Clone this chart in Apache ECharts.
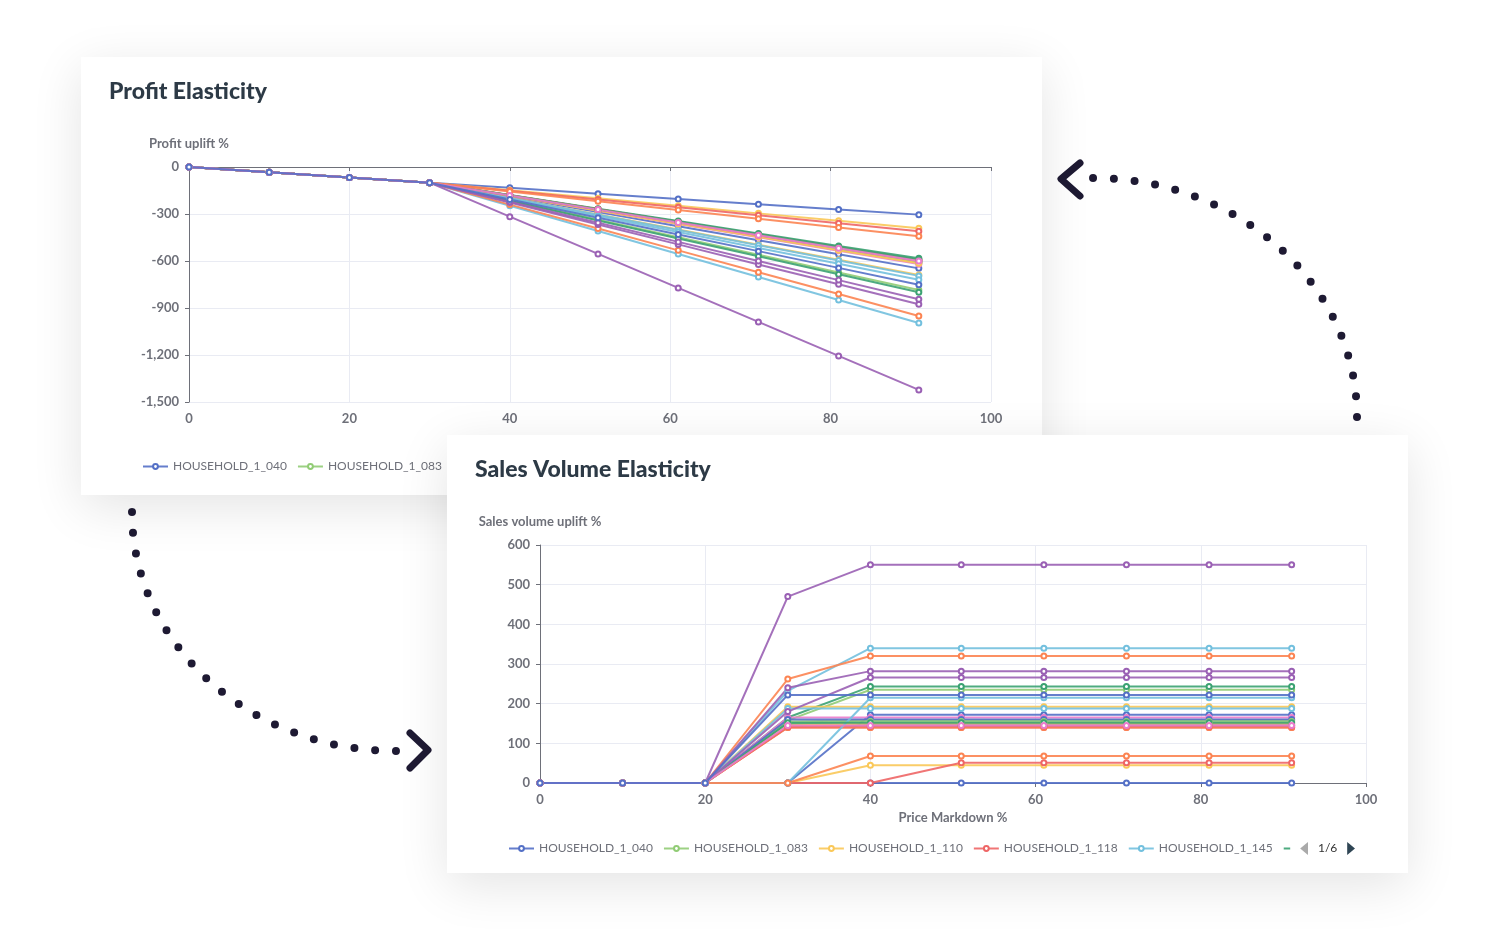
<!DOCTYPE html>
<html>
<head>
<meta charset="utf-8">
<script src="https://cdn.jsdelivr.net/npm/echarts@6/dist/echarts.min.js"></script>
<style>
html, body { margin: 0; width: 1488px; height: 930px; background: #fff; overflow: hidden; }
.card { position: absolute; width: 961px; height: 438px; background: #fff; box-shadow: 0 12px 48px rgba(0, 0, 0, 0.11); }
#card1 { left: 81px; top: 57px; z-index: 1; }
#card2 { left: 447px; top: 435px; z-index: 2; }
#arrows { position: absolute; left: 0; top: 0; z-index: 0; }
</style>
</head>
<body>
<svg id="arrows" width="1488" height="930">
  <g fill="none" stroke="#1e1a33" stroke-linecap="round" stroke-linejoin="round">
    <path d="M1357,417 C1357,285 1239,178 1093,178" stroke-width="8" stroke-dasharray="0 20.8"/>
    <polyline points="1080,163 1061,179 1080,196" stroke-width="7"/>
    <path d="M132,512 C132,644 250,751 396,751" stroke-width="8" stroke-dasharray="0 20.8"/>
    <polyline points="410,733 428,750 410,768" stroke-width="7"/>
  </g>
</svg>
<div class="card" id="card1"><div id="profit" style="width:961px;height:438px"></div></div>
<div class="card" id="card2"><div id="sales" style="width:961px;height:438px"></div></div>
<script>
// markdown steps (%)
var markdown = [0, 10, 20, 30, 40, 51, 61, 71, 81, 91];

var households = [
  'HOUSEHOLD_1_040', 'HOUSEHOLD_1_083', 'HOUSEHOLD_1_110', 'HOUSEHOLD_1_118', 'HOUSEHOLD_1_145',
  'HOUSEHOLD_1_159', 'HOUSEHOLD_1_172', 'HOUSEHOLD_1_183', 'HOUSEHOLD_1_204', 'HOUSEHOLD_1_226',
  'HOUSEHOLD_1_238', 'HOUSEHOLD_1_251', 'HOUSEHOLD_1_272', 'HOUSEHOLD_1_288', 'HOUSEHOLD_1_303',
  'HOUSEHOLD_1_316', 'HOUSEHOLD_1_334', 'HOUSEHOLD_1_347', 'HOUSEHOLD_1_362', 'HOUSEHOLD_1_381',
  'HOUSEHOLD_1_405', 'HOUSEHOLD_1_413', 'HOUSEHOLD_1_430', 'HOUSEHOLD_1_447', 'HOUSEHOLD_1_466',
  'HOUSEHOLD_1_480', 'HOUSEHOLD_1_502', 'HOUSEHOLD_1_519'
];

// profit uplift % per household
var profit = [
  [0, -33, -67, -100, -133, -170, -204, -237, -271, -304],
  [0, -33, -67, -100, -212, -336, -448, -560, -673, -785],
  [0, -33, -67, -100, -148, -200, -248, -296, -343, -391],
  [0, -33, -67, -100, -151, -207, -257, -308, -359, -410],
  [0, -33, -67, -100, -247, -408, -555, -702, -849, -996],
  [0, -33, -67, -100, -215, -341, -456, -570, -685, -800],
  [0, -33, -67, -100, -240, -393, -532, -672, -811, -951],
  [0, -33, -67, -100, -317, -555, -772, -989, -1206, -1423],
  [0, -33, -67, -100, -183, -273, -356, -439, -521, -604],
  [0, -33, -67, -100, -190, -288, -378, -468, -557, -647],
  [0, -33, -67, -100, -184, -276, -360, -444, -528, -612],
  [0, -33, -67, -100, -197, -303, -399, -496, -592, -689],
  [0, -33, -67, -100, -181, -269, -350, -431, -511, -592],
  [0, -33, -67, -100, -198, -305, -402, -500, -597, -695],
  [0, -33, -67, -100, -179, -266, -345, -425, -504, -583],
  [0, -33, -67, -100, -181, -270, -352, -433, -514, -595],
  [0, -33, -67, -100, -227, -367, -494, -622, -749, -876],
  [0, -33, -67, -100, -185, -279, -364, -449, -535, -620],
  [0, -33, -67, -100, -183, -274, -357, -439, -522, -605],
  [0, -33, -67, -100, -183, -275, -358, -441, -525, -608],
  [0, -33, -67, -100, -184, -277, -362, -446, -531, -615],
  [0, -33, -67, -100, -182, -271, -353, -435, -516, -598],
  [0, -33, -67, -100, -202, -313, -415, -517, -618, -720],
  [0, -33, -67, -100, -180, -269, -349, -429, -510, -590],
  [0, -33, -67, -100, -156, -218, -274, -330, -386, -442],
  [0, -33, -67, -100, -222, -356, -478, -600, -722, -844],
  [0, -33, -67, -100, -182, -272, -354, -436, -518, -600],
  [0, -33, -67, -100, -207, -324, -431, -537, -644, -751]
];

// sales volume uplift % per household
var sales = [
  [0, 0, 0, 0, 0, 0, 0, 0, 0, 0],
  [0, 0, 0, 158, 235, 235, 235, 235, 235, 235],
  [0, 0, 0, 0, 45, 45, 45, 45, 45, 45],
  [0, 0, 0, 0, 0, 51, 51, 51, 51, 51],
  [0, 0, 0, 232, 340, 340, 340, 340, 340, 340],
  [0, 0, 0, 165, 243, 243, 243, 243, 243, 243],
  [0, 0, 0, 262, 320, 320, 320, 320, 320, 320],
  [0, 0, 0, 470, 550, 550, 550, 550, 550, 550],
  [0, 0, 0, 148, 148, 148, 148, 148, 148, 148],
  [0, 0, 0, 0, 172, 172, 172, 172, 172, 172],
  [0, 0, 0, 155, 158, 158, 158, 158, 158, 158],
  [0, 0, 0, 192, 192, 192, 192, 192, 192, 192],
  [0, 0, 0, 140, 140, 140, 140, 140, 140, 140],
  [0, 0, 0, 188, 188, 188, 188, 188, 188, 188],
  [0, 0, 0, 150, 145, 145, 145, 145, 145, 145],
  [0, 0, 0, 140, 140, 140, 140, 140, 140, 140],
  [0, 0, 0, 240, 282, 282, 282, 282, 282, 282],
  [0, 0, 0, 165, 165, 165, 165, 165, 165, 165],
  [0, 0, 0, 160, 160, 160, 160, 160, 160, 160],
  [0, 0, 0, 150, 155, 155, 155, 155, 155, 155],
  [0, 0, 0, 145, 150, 150, 150, 150, 150, 150],
  [0, 0, 0, 142, 143, 143, 143, 143, 143, 143],
  [0, 0, 0, 0, 215, 215, 215, 215, 215, 215],
  [0, 0, 0, 152, 152, 152, 152, 152, 152, 152],
  [0, 0, 0, 0, 68, 68, 68, 68, 68, 68],
  [0, 0, 0, 180, 266, 266, 266, 266, 266, 266],
  [0, 0, 0, 145, 145, 145, 145, 145, 145, 145],
  [0, 0, 0, 222, 222, 222, 222, 222, 222, 222]
];

var xTicks = { min: 0, max: 100, interval: 20 };
var profitTicks = { min: -1500, max: 0, interval: 300 };
var salesTicks = { min: 0, max: 600, interval: 100 };

var FONT = 'Lato';
var palette = ['#5470c6', '#91cc75', '#fac858', '#ee6666', '#73c0de', '#3ba272', '#fc8452', '#9a60b4', '#ea7ccc'];
var labelStyle = { color: '#6e7079', fontSize: 13, fontWeight: 'bold', fontFamily: FONT, margin: 10 };
var nameStyle = { color: '#6e7079', fontSize: 13, fontWeight: 'bold', fontFamily: FONT };
var splitStyle = { show: true, lineStyle: { color: '#e9ebf3', width: 1 } };
var axisLineStyle = { color: '#6e7079', width: 1 };

function makeSeries(values) {
  return households.map(function (name, i) {
    return {
      name: name,
      type: 'line',
      symbol: 'emptyCircle',
      symbolSize: 5,
      lineStyle: { width: 2, opacity: 0.9 },
      emphasis: { disabled: true },
      data: markdown.map(function (x, j) { return [x, values[i][j]]; })
    };
  });
}

function makeLegend(bottom) {
  return {
    type: 'scroll',
    left: 56,
    width: 847,
    bottom: bottom,
    itemGap: 10,
    itemWidth: 25,
    itemHeight: 6,
    textStyle: { color: '#6e7079', fontSize: 12, fontFamily: FONT },
    pageTextStyle: { color: '#333', fontSize: 12, fontFamily: FONT },
    pageIconColor: '#2f4554',
    pageIconInactiveColor: '#aaa',
    pageIconSize: 13,
    data: households
  };
}

function makeTitle(text) {
  return {
    text: text, left: 23, top: 18,
    textStyle: { fontSize: 23, fontWeight: 900, color: '#2d3a46', fontFamily: FONT }
  };
}

var profitChart = echarts.init(document.getElementById('profit'));
profitChart.setOption({
  animation: false,
  color: palette,
  title: makeTitle('Profit Elasticity'),
  legend: makeLegend(17),
  grid: { left: 108, right: 51, top: 110, bottom: 93 },
  xAxis: [{
    type: 'value', min: xTicks.min, max: xTicks.max, interval: xTicks.interval, position: 'bottom',
    axisLine: { show: false, onZero: false }, axisTick: { show: false },
    axisLabel: labelStyle, splitLine: splitStyle
  }, {
    type: 'value', min: xTicks.min, max: xTicks.max, interval: xTicks.interval, position: 'top',
    axisLine: { show: true, onZero: false, lineStyle: axisLineStyle },
    axisTick: { show: true, inside: true, length: 4, lineStyle: axisLineStyle },
    axisLabel: { show: false }, splitLine: { show: false }
  }],
  yAxis: {
    type: 'value', min: profitTicks.min, max: profitTicks.max, interval: profitTicks.interval,
    name: 'Profit uplift %', nameGap: 17,
    nameTextStyle: nameStyle,
    axisLine: { show: true, lineStyle: axisLineStyle },
    axisTick: { show: true, length: 4, lineStyle: axisLineStyle },
    axisLabel: labelStyle, splitLine: splitStyle
  },
  series: makeSeries(profit)
});

var salesChart = echarts.init(document.getElementById('sales'));
salesChart.setOption({
  animation: false,
  color: palette,
  title: makeTitle('Sales Volume Elasticity'),
  legend: makeLegend(13),
  grid: { left: 93, right: 42, top: 110, bottom: 90 },
  xAxis: {
    type: 'value', min: xTicks.min, max: xTicks.max, interval: xTicks.interval,
    name: 'Price Markdown %', nameLocation: 'middle', nameGap: 27,
    nameTextStyle: nameStyle,
    axisLine: { show: true, lineStyle: axisLineStyle },
    axisTick: { show: true, length: 4, lineStyle: axisLineStyle },
    axisLabel: labelStyle, splitLine: splitStyle
  },
  yAxis: {
    type: 'value', min: salesTicks.min, max: salesTicks.max, interval: salesTicks.interval,
    name: 'Sales volume uplift %', nameGap: 17,
    nameTextStyle: nameStyle,
    axisLine: { show: true, lineStyle: axisLineStyle },
    axisTick: { show: true, length: 4, lineStyle: axisLineStyle },
    axisLabel: labelStyle, splitLine: splitStyle
  },
  series: makeSeries(sales)
});
</script>
</body>
</html>
